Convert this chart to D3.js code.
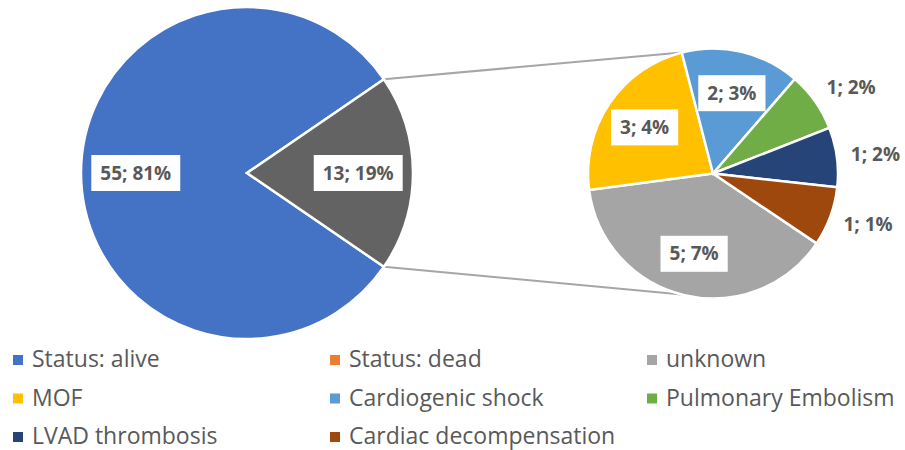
<!DOCTYPE html>
<html>
<head>
<meta charset="utf-8">
<script src="https://cdn.jsdelivr.net/npm/d3@7"></script>
<style>
    body { margin: 0; background: #fff; }
    svg { display: block; font-family: 'Open Sans', 'Noto Sans', sans-serif; }
</style>
</head>
<body>
<div id="chart"></div>
<script>
// Main pie: alive vs dead; the dead slice is split out into the secondary pie
const mainNames = ['Status: alive', 'Status: dead'];
const mainValues = [55, 13];
const mainPct = ['81%', '19%'];
const mainColors = ['#4472C4', '#ED7D31'];

// Causes of death (secondary pie)
const subNames = ['unknown', 'MOF', 'Cardiogenic shock', 'Pulmonary Embolism', 'LVAD thrombosis', 'Cardiac decompensation'];
const subValues = [5, 3, 2, 1, 1, 1];
const subPct = ['7%', '4%', '3%', '2%', '2%', '1%'];
const subColors = ['#A5A5A5', '#FFC000', '#5B9BD5', '#70AD47', '#264478', '#9E480E'];

const otherColor = '#636363';
const textColor = '#595959';

const PieOfPie = (() => {
    const width = 905, height = 450;
    const deg = Math.PI / 180;
    let svg;

    function init(container) {
        svg = d3.select(container).append('svg')
            .attr('width', width)
            .attr('height', height);
    }

    function labelBox(g, x, y, text, boxed) {
        const t = g.append('text')
            .attr('x', x)
            .attr('y', y)
            .attr('dy', '0.35em')
            .attr('text-anchor', boxed ? 'middle' : 'start')
            .attr('font-size', '19px')
            .attr('font-weight', 700)
            .attr('fill', textColor)
            .text(text);
        if (boxed) {
            const bb = t.node().getBBox();
            g.insert('rect', () => t.node())
                .attr('x', bb.x - 9)
                .attr('y', y - 18)
                .attr('width', bb.width + 18)
                .attr('height', 36)
                .attr('fill', '#fff');
        }
    }

    function draw() {
        const mainC = { x: 247, y: 173, r: 166 };
        const subC = { x: 713, y: 173.5, r: 125 };

        const total = d3.sum(mainValues);
        const deadAngle = 2 * Math.PI * mainValues[1] / total;
        const mainStart = Math.PI / 2 + deadAngle / 2;

        const mainArcs = d3.pie().sort(null)
            .startAngle(mainStart)
            .endAngle(mainStart + 2 * Math.PI)(mainValues);

        const subStart = 124 * deg;
        const subArcs = d3.pie().sort(null)
            .startAngle(subStart)
            .endAngle(subStart + 2 * Math.PI)(subValues);

        const mainArc = d3.arc().innerRadius(0).outerRadius(mainC.r);
        const mainLabelArc = d3.arc().innerRadius(mainC.r * 0.67).outerRadius(mainC.r * 0.67);
        const subArc = d3.arc().innerRadius(0).outerRadius(subC.r);
        const subLabelArc = d3.arc().innerRadius(subC.r * 0.66).outerRadius(subC.r * 0.66);

        // Connector lines between the dead slice and the secondary pie
        const dead = mainArcs[1];
        const topAng = subArcs[1].endAngle;          // MOF / Cardiogenic shock edge
        const botAng = Math.PI - topAng;             // mirrored below
        const pt = (c, a) => [c.x + c.r * Math.sin(a), c.y - c.r * Math.cos(a)];
        const lines = [
            [pt(mainC, dead.startAngle), pt(subC, topAng)],
            [pt(mainC, dead.endAngle), pt(subC, botAng)]
        ];
        svg.append('g').selectAll('line').data(lines).enter()
            .append('line')
            .attr('x1', d => d[0][0]).attr('y1', d => d[0][1])
            .attr('x2', d => d[1][0]).attr('y2', d => d[1][1])
            .attr('stroke', '#A6A6A6')
            .attr('stroke-width', 2);

        // Main pie
        const mg = svg.append('g').attr('transform', `translate(${mainC.x},${mainC.y})`);
        mg.selectAll('path').data(mainArcs).enter()
            .append('path')
            .attr('d', mainArc)
            .attr('fill', (d, i) => i === 0 ? mainColors[0] : otherColor)
            .attr('stroke', '#fff')
            .attr('stroke-width', 2.5);
        mainArcs.forEach((d, i) => {
            const [x, y] = mainLabelArc.centroid(d);
            labelBox(mg, x, y, `${mainValues[i]}; ${mainPct[i]}`, true);
        });

        // Secondary pie
        const sg = svg.append('g').attr('transform', `translate(${subC.x},${subC.y})`);
        sg.selectAll('path').data(subArcs).enter()
            .append('path')
            .attr('d', subArc)
            .attr('fill', (d, i) => subColors[i])
            .attr('stroke', '#fff')
            .attr('stroke-width', 2.5);
        subArcs.forEach((d, i) => {
            const text = `${subValues[i]}; ${subPct[i]}`;
            if (subValues[i] > 1) {
                const [x, y] = subLabelArc.centroid(d);
                labelBox(sg, x, y, text, true);
            } else {
                const mid = (d.startAngle + d.endAngle) / 2;
                const rr = subC.r + 14;
                const x = rr * Math.sin(mid);
                const y = -rr * Math.cos(mid) - Math.cos(mid) * 10;
                labelBox(sg, x, y, text, false);
            }
        });

        // Legend, three columns
        const items = mainNames.map((n, i) => ({ name: n, color: mainColors[i] }))
            .concat(subNames.map((n, i) => ({ name: n, color: subColors[i] })));
        const lg = svg.append('g');
        const leg = lg.selectAll('g').data(items).enter()
            .append('g')
            .attr('transform', (d, i) => `translate(${13 + (i % 3) * 317},${360 + Math.floor(i / 3) * 38.5})`);
        leg.append('rect')
            .attr('x', 0).attr('y', -5)
            .attr('width', 10).attr('height', 10)
            .attr('fill', d => d.color);
        leg.append('text')
            .attr('x', 19)
            .attr('y', 7)
            .attr('font-size', '23px')
            .attr('fill', textColor)
            .text(d => d.name);
    }

    return { init, draw };
})();

PieOfPie.init('#chart');
PieOfPie.draw();
</script>
</body>
</html>
